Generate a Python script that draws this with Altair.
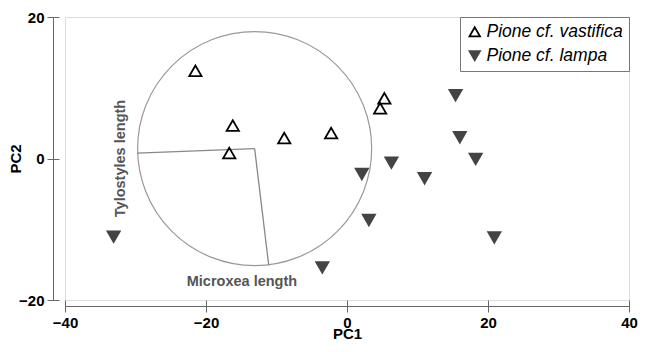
import altair as alt
import pandas as pd

# --- data ---
species = ["Pione cf. vastifica", "Pione cf. lampa"]
vast_x = [-21.5, -16.2, -16.7, -8.9, -2.25, 5.3, 4.7]
vast_y = [12.4, 4.66, 0.77, 2.9, 3.6, 8.5, 7.1]
lampa_x = [-33.1, -3.5, 2.1, 3.1, 6.3, 11.0, 15.4, 16.0, 18.25, 20.9]
lampa_y = [-11.05, -15.4, -2.2, -8.7, -0.6, -2.8, 8.95, 3.0, -0.07, -11.15]

circle_center = [-13.1, 1.4]
circle_radius = 16.6
vec_names = ["Tylostyles length", "Microxea length"]
vec_x = [-29.75, -11.1]
vec_y = [0.77, -15.1]
lab_x = [-32.0, -14.9]
lab_y = [0.0, -17.45]

x_ticks = [-40, -20, 0, 20, 40]
y_ticks = [-20, 0, 20]

W, H = 564, 283
XD, YD = [-40, 40], [-20, 20]
px_per_unit = W / (XD[1] - XD[0])

FONT = "Liberation Sans"
AXIS_GREY = "#666"

pts = pd.DataFrame({
    "x": vast_x + lampa_x,
    "y": vast_y + lampa_y,
    "sp": [species[0]] * len(vast_x) + [species[1]] * len(lampa_x),
})
circ = pd.DataFrame({"x": [circle_center[0]], "y": [circle_center[1]]})
vecs = pd.DataFrame({
    "x": [circle_center[0]] * 2, "y": [circle_center[1]] * 2,
    "x2": vec_x, "y2": vec_y, "name": vec_names,
})
labs = pd.DataFrame({"x": lab_x, "y": lab_y, "name": vec_names})

xs = alt.Scale(domain=XD, nice=False, zero=False)
ys = alt.Scale(domain=YD, nice=False, zero=False)

xaxis = alt.Axis(orient="bottom", values=x_ticks, offset=6, tickSize=6, domainColor=AXIS_GREY,
                 tickColor=AXIS_GREY, labelFontSize=15, labelFontWeight="bold",
                 labelColor="black", labelFlush=False, labelPadding=3, grid=False,
                 title="PC1", titleFontSize=15, titleFontWeight="bold",
                 titleColor="black", titlePadding=-4, labelOverlap=False)
yaxis = alt.Axis(orient="left", values=y_ticks, offset=12, tickSize=6, domainColor=AXIS_GREY,
                 tickColor=AXIS_GREY, labelFontSize=15, labelFontWeight="bold",
                 labelColor="black", labelFlush=False, labelPadding=3, grid=False,
                 title="PC2", titleFontSize=15, titleFontWeight="bold",
                 titleColor="black", titlePadding=-5, labelOverlap=False)
# inner halves of the ticks (ticks cross the axis lines in the reference)
xaxis_in = alt.Axis(orient="bottom", values=x_ticks, offset=0, tickSize=6, domain=False,
                    labels=False, title=None, grid=False, tickColor=AXIS_GREY)
yaxis_in = alt.Axis(orient="left", values=y_ticks, offset=6, tickSize=6, domain=False,
                    labels=False, title=None, grid=False, tickColor=AXIS_GREY)

circle_layer = alt.Chart(circ).mark_point(
    shape="circle", filled=False, stroke="#999", strokeWidth=1.2, opacity=1,
    size=(2 * circle_radius * px_per_unit) ** 2,
).encode(x=alt.X("x:Q", scale=xs, axis=xaxis), y=alt.Y("y:Q", scale=ys, axis=yaxis))

tick_layer = alt.Chart(circ).mark_point(opacity=0).encode(
    x=alt.X("x:Q", scale=xs, axis=xaxis_in), y=alt.Y("y:Q", scale=ys, axis=yaxis_in))

vec_layer = alt.Chart(vecs).mark_rule(color="#888", strokeWidth=1.3).encode(
    x=alt.X("x:Q", scale=xs, axis=None), y=alt.Y("y:Q", scale=ys, axis=None),
    x2="x2:Q", y2="y2:Q")

lab1 = alt.Chart(labs.iloc[[0]]).mark_text(
    angle=270, font=FONT, fontSize=14.5, fontWeight="bold", color="#555",
).encode(x=alt.X("x:Q", scale=xs, axis=None), y=alt.Y("y:Q", scale=ys, axis=None), text="name:N")
lab2 = alt.Chart(labs.iloc[[1]]).mark_text(
    font=FONT, fontSize=14.5, fontWeight="bold", color="#555",
).encode(x=alt.X("x:Q", scale=xs, axis=None), y=alt.Y("y:Q", scale=ys, axis=None), text="name:N")

legend = alt.Legend(title=None, orient="top-right", offset=0, strokeColor="#777",
                    fillColor="white", padding=6, labelFontSize=17.5,
                    labelFontStyle="italic", labelColor="black", labelFont=FONT,
                    symbolSize=110, symbolStrokeWidth=1.8, rowPadding=5, labelOffset=3)

pt_layer = alt.Chart(pts).mark_point(size=150, strokeWidth=1.8, opacity=1).encode(
    x=alt.X("x:Q", scale=xs, axis=None), y=alt.Y("y:Q", scale=ys, axis=None),
    shape=alt.Shape("sp:N", scale=alt.Scale(domain=species, range=["triangle-up", "triangle-down"]), legend=legend),
    fill=alt.Fill("sp:N", scale=alt.Scale(domain=species, range=["transparent", "#444"]), legend=legend),
    stroke=alt.Stroke("sp:N", scale=alt.Scale(domain=species, range=["black", "#444"]), legend=legend),
)

chart = alt.layer(circle_layer, tick_layer, vec_layer, lab1, lab2, pt_layer).resolve_axis(
    x="independent", y="independent"
).properties(
    width=W, height=H,
    autosize=alt.AutoSizeParams(type="none"),
    padding={"left": 57, "top": 9, "right": 9, "bottom": 43},
).configure_view(stroke=None).configure(font=FONT)

chart.save("out.html", embed_options={"renderer": "svg", "actions": False})
